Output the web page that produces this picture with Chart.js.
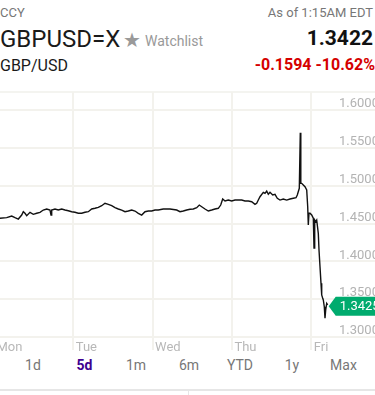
<!DOCTYPE html>
<html>
<head>
<meta charset="utf-8">
<script src="https://cdn.jsdelivr.net/npm/chart.js@4/dist/chart.umd.min.js"></script>
<style>
  html, body { margin: 0; padding: 0; width: 375px; height: 395px; overflow: hidden; background: #fff; font-family: Roboto, sans-serif; }
  .t { position: absolute; line-height: 1; white-space: nowrap; }
  #cv { position: absolute; left: -6px; top: 80px; }
  .topline { position: absolute; left: 0; width: 375px; top: 91px; height: 2px; background: #f4f4f0; }
  .btn { position: absolute; top: 357.5px; font-size: 14px; line-height: 1; color: #777; transform: translateX(-50%); white-space: nowrap; }
  .btn.on { color: #400090; font-weight: bold; }
  .bottomline { position: absolute; left: 0; width: 375px; top: 389px; height: 2px; background: #e6e6e6; }
  .sep { position: absolute; left: 188px; top: 390px; width: 1px; height: 6px; background: #e6e6e6; }
</style>
</head>
<body>
<div class="t" style="left:0;top:6.4px;font-size:13px;color:#777;">CCY</div>
<div class="t" style="right:2px;top:6.4px;font-size:13px;color:#777;">As of 1:15AM EDT</div>
<div class="t" style="left:0;top:26.8px;font-size:24px;color:#1a1a1a;">GBPUSD=X</div>
<div class="t" style="left:123px;top:29.5px;font-size:20px;color:#9a9a9a;font-family:'DejaVu Sans',sans-serif;">★</div>
<div class="t" style="left:145px;top:34.2px;font-size:14px;color:#999;">Watchlist</div>
<div class="t" style="right:2px;top:28.3px;font-size:21px;font-weight:bold;color:#111;">1.3422</div>
<div class="t" style="left:0;top:57.5px;font-size:16px;color:#1a1a1a;">GBP/USD</div>
<div class="t" style="right:0;top:56.5px;font-size:16px;font-weight:bold;color:#d50000;">-0.1594 -10.62%</div>
<div class="topline"></div>
<canvas id="cv" width="400" height="277"></canvas>
<div class="btn" style="left:33px;">1d</div>
<div class="btn on" style="left:84.5px;">5d</div>
<div class="btn" style="left:136px;">1m</div>
<div class="btn" style="left:189px;">6m</div>
<div class="btn" style="left:240px;">YTD</div>
<div class="btn" style="left:292px;">1y</div>
<div class="btn" style="left:343.5px;">Max</div>
<div class="bottomline"></div>
<div class="sep"></div>
<script>
// Time in days since Monday 00:00 (gridline), price GBP/USD
const times = [0, 0.0757, 0.1602, 0.2232, 0.2648, 0.3064, 0.3493, 0.3695, 0.3909, 0.4124, 0.454, 0.4956, 0.5385, 0.5801, 0.6217, 0.6646, 0.7062, 0.7188, 0.7276, 0.7692, 0.8108, 0.8537, 0.8953, 0.9369, 0.9798, 1.0214, 1.063, 1.1059, 1.1475, 1.1892, 1.232, 1.2736, 1.3153, 1.3581, 1.3997, 1.4414, 1.4842, 1.5259, 1.5675, 1.6103, 1.652, 1.6936, 1.7364, 1.7781, 1.8197, 1.8626, 1.9042, 1.9458, 1.9887, 2.0303, 2.0719,
  2.1349, 2.2194, 2.3039, 2.3455, 2.3871, 2.4300, 2.4716, 2.5132, 2.5561, 2.5889, 2.6192, 2.6608, 2.7024, 2.7453, 2.7869, 2.8285, 2.8588, 2.8840, 2.9130, 2.9546, 2.9975, 3.0391, 3.0807, 3.1236, 3.1652, 3.2068, 3.2497, 3.2913, 3.3127, 3.3329, 3.3544, 3.3960, 3.4174, 3.4388, 3.4590, 3.4805, 3.5145, 3.5435, 3.5725, 3.6066, 3.6482, 3.6911, 3.7327, 3.7743, 3.8083, 3.8247, 3.8499, 3.8625, 3.8689, 3.8802, 3.9004, 3.9218, 3.9433, 3.9559, 3.9634, 3.9723, 3.9849, 4.0063, 4.0265, 4.0353, 4.0441, 4.0567, 4.0694, 4.0895, 4.0984, 4.1110, 4.1236, 4.1324, 4.1450, 4.1526, 4.1652, 4.1740, 4.1828, 4.1955, 4.2081];
const prices = [1.4565, 1.4569, 1.4577, 1.4599, 1.4577, 1.4559, 1.4612, 1.4656, 1.4635, 1.4603, 1.4648, 1.4621, 1.4635, 1.4648, 1.4678, 1.4692, 1.4678, 1.4612, 1.4678, 1.4692, 1.4678, 1.4692, 1.4678, 1.4669, 1.4656, 1.4648, 1.4635, 1.4635, 1.4648, 1.4656, 1.4692, 1.4701, 1.4714, 1.4735, 1.4767, 1.4754, 1.4735, 1.4709, 1.4692, 1.4678, 1.4656, 1.4665, 1.4678, 1.4665, 1.4635, 1.4612, 1.4656, 1.4665, 1.4665, 1.4678, 1.4678,
  1.4692, 1.4692, 1.4678, 1.4656, 1.4665, 1.4678, 1.4688, 1.4692, 1.4709, 1.4744, 1.4722, 1.4692, 1.4665, 1.4678, 1.4692, 1.4701, 1.4744, 1.4824, 1.4797, 1.4810, 1.4797, 1.4810, 1.4810, 1.4810, 1.4797, 1.4797, 1.4788, 1.4754, 1.4767, 1.4810, 1.4854, 1.4912, 1.4899, 1.4929, 1.4886, 1.4912, 1.4877, 1.4886, 1.4833, 1.4810, 1.4824, 1.4810, 1.4824, 1.4833, 1.4841, 1.4877, 1.4965, 1.5700, 1.5031, 1.5031, 1.5009, 1.4986, 1.4943, 1.4722, 1.4480, 1.4635, 1.4635, 1.4612, 1.4569, 1.4176, 1.4546, 1.4524, 1.4546, 1.4370, 1.4150, 1.3929, 1.3709, 1.3555, 1.3511, 1.3489, 1.3400, 1.3247, 1.3357, 1.3445, 1.3425];
const dayLabels = ['Mon', 'Tue', 'Wed', 'Thu', 'Fri'];
const yMin = 1.30, yMax = 1.6238, yStep = 0.05;
const xMin = 0, xMax = 4.2875;

const gridColor = '#f3f2ed';

const lastTag = {
  id: 'lastTag',
  afterDraw(chart) {
    const ctx = chart.ctx;
    const xs = chart.scales.x, ys = chart.scales.y;
    const i = times.length - 1;
    const px = xs.getPixelForValue(times[i]) + 1;
    const py = ys.getPixelForValue(prices[i]) + 1.5;
    const h = 9.5;
    ctx.save();
    ctx.fillStyle = '#00ab6e';
    ctx.beginPath();
    ctx.moveTo(px, py);
    ctx.lineTo(px + 7, py - h);
    ctx.lineTo(chart.width, py - h);
    ctx.lineTo(chart.width, py + h);
    ctx.lineTo(px + 7, py + h);
    ctx.closePath();
    ctx.fill();
    ctx.fillStyle = '#fff';
    ctx.font = '13px Roboto';
    ctx.textBaseline = 'middle';
    ctx.textAlign = 'left';
    ctx.fillText(prices[i].toFixed(4), px + 11, py);
    ctx.restore();
  }
};

new Chart(document.getElementById('cv'), {
  type: 'line',
  data: {
    datasets: [{
      data: times.map((t, i) => ({ x: t, y: prices[i] })),
      borderColor: '#111',
      borderWidth: 1.4,
      pointRadius: 0,
      tension: 0,
      fill: false
    }]
  },
  options: {
    responsive: false,
    animation: false,
    devicePixelRatio: 1,
    layout: { padding: { top: 12, left: 0, right: 0, bottom: 0 } },
    plugins: { legend: { display: false }, tooltip: { enabled: false } },
    scales: {
      x: {
        type: 'linear',
        min: xMin, max: xMax,
        afterFit: s => { s.height = 20; },
        border: { display: false },
        grid: { color: gridColor, lineWidth: 2, tickLength: 13 },
        ticks: {
          stepSize: 1, includeBounds: false, autoSkip: false, maxRotation: 0,
          align: 'start', labelOffset: 2.5, padding: -10.5,
          color: '#b8b8b8', font: { family: 'Roboto', size: 13 },
          callback: v => dayLabels[Math.round(v)] ?? ''
        }
      },
      y: {
        type: 'linear',
        position: 'right',
        min: yMin, max: yMax,
        afterFit: s => { s.width = 60; },
        border: { display: false },
        grid: { color: gridColor, lineWidth: 2, tickLength: 50 },
        ticks: {
          stepSize: yStep, includeBounds: false,
          padding: -45, labelOffset: -6,
          color: '#b3b3b3', font: { family: 'Roboto', size: 13 },
          callback: v => Number(v).toFixed(4)
        }
      }
    }
  },
  plugins: [lastTag]
});
</script>
</body>
</html>
